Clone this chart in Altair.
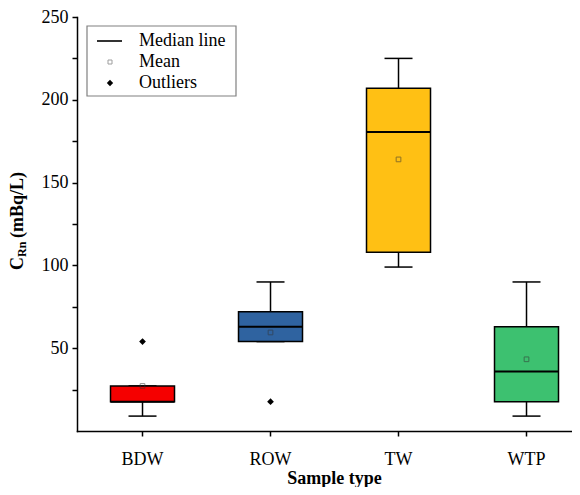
import altair as alt
import pandas as pd

# ---- data ----
types = ["BDW", "ROW", "TW", "WTP"]
box_colors = ["#F50000", "#2F63A0", "#FFC014", "#3DC170"]
q1 = [17.7, 54, 108, 17.7]
q3 = [27.2, 72, 207, 63]
medians = [17.7, 63, 180.5, 36]
means = [27.2, 59.5, 164, 43.3]
whisker_lo = [9, 54, 99, 9]
whisker_hi = [27.2, 90, 225, 90]
outlier_types = ["BDW", "ROW"]
outlier_vals = [54, 17.7]
legend_labels = ["Median line", "Mean", "Outliers"]
y_ticks = [25, 50, 75, 100, 125, 150, 175, 200, 225, 250]

FONT = "Times New Roman, Liberation Serif, DejaVu Serif, serif"

df = pd.DataFrame(dict(type=types, q1=q1, q3=q3, med=medians, mean=means,
                       wlo=whisker_lo, whi=whisker_hi))
odf = pd.DataFrame(dict(type=outlier_types, value=outlier_vals))

x_enc = alt.X(
    "type:N", sort=types,
    scale=alt.Scale(domain=types, paddingInner=0.5, paddingOuter=0.1836, align=0.713),
    axis=alt.Axis(title="Sample type", labelAngle=0, labelFont=FONT, labelFontSize=18,
                  labelColor="black", labelPadding=14, tickSize=5, tickWidth=1.5,
                  tickColor="black", domainColor="black", domainWidth=1.5,
                  titleFont=FONT, titleFontSize=18, titleFontWeight="bold",
                  titleColor="black", titleBaseline="alphabetic", titleAlign="center",
                  titleX=257, titleY=52, grid=False),
)
y_scale = alt.Scale(domain=[0, 250], nice=False, zero=True)
y_axis = alt.Axis(title=None, values=y_ticks,
                  labelExpr="datum.value % 50 == 0 ? datum.label : ''",
                  labelFont=FONT, labelFontSize=18, labelColor="black", labelPadding=4,
                  labelFlush=False, labelOverlap=False,
                  tickSize=5, tickWidth=1.5, tickColor="black",
                  domainColor="black", domainWidth=1.5, grid=False)

color_enc = alt.Color("type:N", scale=alt.Scale(domain=types, range=box_colors), legend=None)

base = alt.Chart(df)

whisk_low = base.mark_rule(color="black", strokeWidth=1.5).encode(
    x=x_enc, y=alt.Y("wlo:Q", scale=y_scale, axis=y_axis), y2="q1:Q")
whisk_high = base.mark_rule(color="black", strokeWidth=1.5).encode(
    x=x_enc, y=alt.Y("q3:Q", scale=y_scale, axis=y_axis), y2="whi:Q")
cap_low = base.mark_tick(color="black", size=28, thickness=1.5, opacity=1).encode(
    x=x_enc, y=alt.Y("wlo:Q", scale=y_scale, axis=y_axis))
cap_high = base.mark_tick(color="black", size=28, thickness=1.5, opacity=1).encode(
    x=x_enc, y=alt.Y("whi:Q", scale=y_scale, axis=y_axis))
boxes = base.mark_bar(stroke="black", strokeWidth=1.5, width={"band": 1}, opacity=1).encode(
    x=x_enc, y=alt.Y("q1:Q", scale=y_scale, axis=y_axis), y2="q3:Q", color=color_enc)
median_lines = base.mark_tick(color="black", size=64, thickness=2, opacity=1).encode(
    x=x_enc, y=alt.Y("med:Q", scale=y_scale, axis=y_axis))
mean_pts = base.mark_point(shape="square", filled=False, size=22, stroke="#333",
                           strokeWidth=1, opacity=0.55).encode(
    x=x_enc, y=alt.Y("mean:Q", scale=y_scale, axis=y_axis))
outliers = alt.Chart(odf).mark_point(shape="diamond", filled=True, size=45,
                                     color="black", opacity=1).encode(
    x=x_enc, y=alt.Y("value:Q", scale=y_scale, axis=y_axis))

one = pd.DataFrame({"a": [0]})

# ---- legend (drawn by hand) ----
leg_box = alt.Chart(one).mark_rect(fill="white", stroke="#808080", strokeWidth=1.2).encode(
    x=alt.value(10), x2=alt.value(159), y=alt.value(9), y2=alt.value(79))
row_y = [24, 45, 66]
leg_line = alt.Chart(one).mark_rule(color="#333", strokeWidth=2).encode(
    x=alt.value(20), x2=alt.value(45), y=alt.value(row_y[0]))
leg_mean = alt.Chart(one).mark_point(shape="square", filled=False, size=16, stroke="#777",
                                     strokeWidth=1).encode(
    x=alt.value(33), y=alt.value(row_y[1]))
leg_out = alt.Chart(one).mark_point(shape="diamond", filled=True, size=40, color="black",
                                    opacity=1).encode(
    x=alt.value(33), y=alt.value(row_y[2]))
leg_texts = []
for lab, yy in zip(legend_labels, row_y):
    leg_texts.append(
        alt.Chart(pd.DataFrame({"t": [lab]})).mark_text(
            font=FONT, fontSize=18, color="black", align="left", baseline="middle").encode(
            x=alt.value(62), y=alt.value(yy), text="t:N"))

# ---- y axis title with subscript ----
ytitle_parts = [("C", 18, -59, 253), ("Rn", 12, -55, 240), ("(mBq/L)", 18, -59, 221)]
ytitle = []
for txt, fs, xx, yy in ytitle_parts:
    ytitle.append(
        alt.Chart(pd.DataFrame({"t": [txt]})).mark_text(
            font=FONT, fontSize=fs, fontWeight="bold", color="black", angle=270,
            align="left", baseline="middle").encode(
            x=alt.value(xx), y=alt.value(yy), text="t:N"))

chart = alt.layer(
    whisk_low, whisk_high, cap_low, cap_high, boxes, median_lines, mean_pts, outliers,
    leg_box, leg_line, leg_mean, leg_out, *leg_texts, *ytitle
).properties(
    width=495, height=414,
    autosize=alt.AutoSizeParams(type="none"),
    padding={"left": 69, "top": 9, "right": 0, "bottom": 56},
).configure_view(stroke=None).configure_axis(domainCap="square")

chart.save("out.html", embed_options={"renderer": "svg", "actions": False})
